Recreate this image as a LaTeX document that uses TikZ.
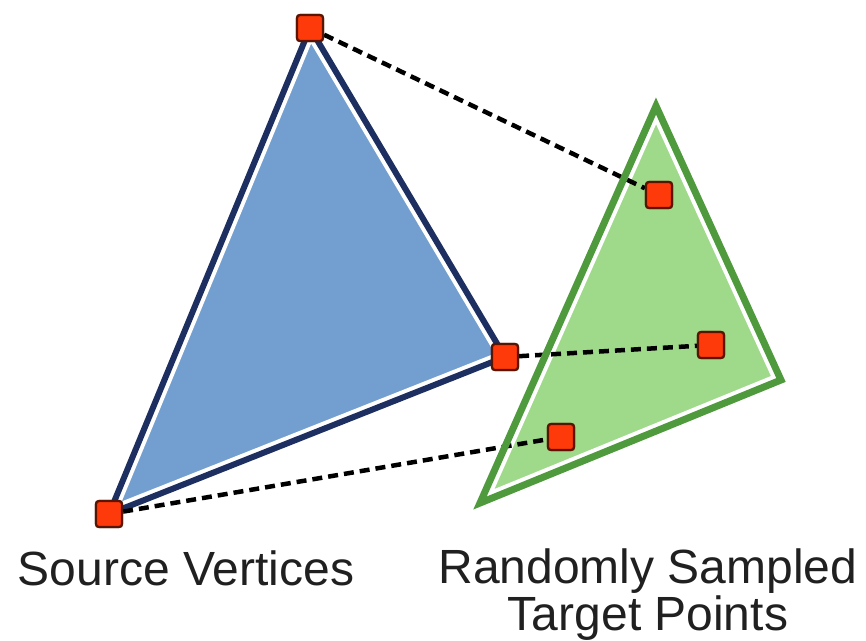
\documentclass[tikz,border=0pt]{standalone}
\usepackage{fontspec}
\setmainfont{Liberation Sans}
\definecolor{srcfill}{HTML}{729FCF}
\definecolor{srcedge}{HTML}{1C2F60}
\definecolor{tgtfill}{HTML}{9FD98A}
\definecolor{tgtedge}{HTML}{4F9A3C}
\definecolor{vtxfill}{HTML}{FF3A0A}
\definecolor{vtxedge}{HTML}{5A1500}
\definecolor{labeltext}{HTML}{202020}
\begin{document}
\begin{tikzpicture}[x=1pt,y=-1pt,
  vertex/.style={draw=vtxedge, fill=vtxfill, line width=2.2pt, rounded corners=3pt,
                 minimum size=26pt, inner sep=0pt},
  link/.style={line width=4.5pt, dash pattern=on 10pt off 6pt, black},
  caption/.style={font=\fontsize{48}{47}\selectfont, text=labeltext, align=center,
                  inner sep=0pt, anchor=base}]
\useasboundingbox (0,0) rectangle (866,640);

% corners of the two triangles
\coordinate (a1) at (310,28);
\coordinate (a2) at (505,357);
\coordinate (a3) at (109,514);
\coordinate (b1) at (656,106);
\coordinate (b2) at (781,380);
\coordinate (b3) at (480,503);

% source triangle: fill, white inner rim, dark outline
\begin{scope}
  \clip (a1) -- (a2) -- (a3) -- cycle;
  \fill[srcfill] (a1) -- (a2) -- (a3) -- cycle;
  \draw[white, line width=14pt] (a1) -- (a2) -- (a3) -- cycle;
\end{scope}
\draw[srcedge, line width=6pt, line join=miter, miter limit=12] (a1) -- (a2) -- (a3) -- cycle;

% target triangle: fill and white inner rim
\begin{scope}
  \clip (b1) -- (b2) -- (b3) -- cycle;
  \fill[tgtfill] (b1) -- (b2) -- (b3) -- cycle;
  \draw[white, line width=15pt] (b1) -- (b2) -- (b3) -- cycle;
\end{scope}

% vertices and sampled points
\node[vertex] (v1) at (a1) {};
\node[vertex] (v2) at (a2) {};
\node[vertex] (v3) at (a3) {};
\node[vertex] (p1) at (659,195) {};
\node[vertex] (p2) at (711,345) {};
\node[vertex] (p3) at (561,437) {};

% correspondences
\draw[link] (v1) -- (p1);
\draw[link] (v2) -- (p2);
\draw[link] (v3) -- (p3);

% target outline on top of the links
\draw[tgtedge, line width=7pt, line join=miter, miter limit=12] (b1) -- (b2) -- (b3) -- cycle;

% redraw the markers above everything
\node[vertex] at (v1) {};
\node[vertex] at (v2) {};
\node[vertex] at (v3) {};
\node[vertex] at (p1) {};
\node[vertex] at (p2) {};
\node[vertex] at (p3) {};

% captions
\node[caption] (srclabel) at (186,585) {Source Vertices};
\node[caption] (tgtlabel) at (648,630) {Randomly Sampled\\Target Points};
\end{tikzpicture}
\end{document}
